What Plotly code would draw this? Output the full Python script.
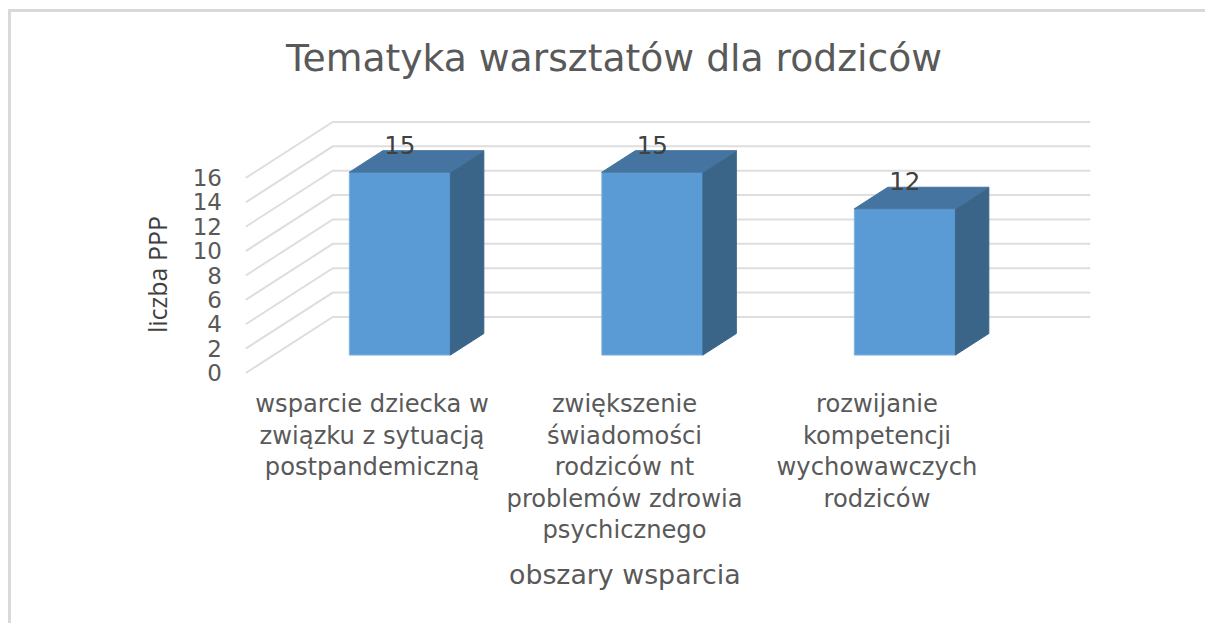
import plotly.graph_objects as go

W, H = 1205, 623

# Data
categories = ["wsparcie dziecka w<br>związku z sytuacją<br>postpandemiczną",
              "zwiększenie<br>świadomości<br>rodziców nt<br>problemów zdrowia<br>psychicznego",
              "rozwijanie<br>kompetencji<br>wychowawczych<br>rodziców"]
values = [15, 15, 12]
y_ticks = [0, 2, 4, 6, 8, 10, 12, 14, 16]
positions = [0, 1, 2]

# Scale of the pseudo-3D view (axis units)
PX_PER_CAT = 252.5
PX_PER_VAL = 12.19
X0_PX, Y0_PX = 372, 373
WALL_DX, WALL_DY = 87 / PX_PER_CAT, 56 / PX_PER_VAL
FRONT, BACK = 0.32, 0.705
BAR_W = 101 / PX_PER_CAT

GREY = "#595959"
FONT = "DejaVu Sans"

fig = go.Figure()

# front faces
fig.add_trace(go.Bar(
    x=[p + FRONT * WALL_DX for p in positions], y=values,
    base=FRONT * WALL_DY, width=BAR_W,
    marker=dict(color="#5B9BD5", line=dict(color="#7FB2E0", width=1)),
    showlegend=False, hoverinfo="skip"))

# side and top faces
for p, v in zip(positions, values):
    xl = p + FRONT * WALL_DX - BAR_W / 2
    xr = p + FRONT * WALL_DX + BAR_W / 2
    d = (BACK - FRONT)
    yb = FRONT * WALL_DY
    dx, dy = d * WALL_DX, d * WALL_DY
    fig.add_trace(go.Scatter(
        x=[xr, xr + dx, xr + dx, xr, xr],
        y=[yb, yb + dy, yb + v + dy, yb + v, yb],
        fill="toself", fillcolor="#3A6589", mode="lines",
        line=dict(color="#3A6589", width=1), showlegend=False, hoverinfo="skip"))
    fig.add_trace(go.Scatter(
        x=[xl, xl + dx, xr + dx, xr, xl],
        y=[yb + v, yb + v + dy, yb + v + dy, yb + v, yb + v],
        fill="toself", fillcolor="#44749F", mode="lines",
        line=dict(color="#44749F", width=1), showlegend=False, hoverinfo="skip"))

# data labels
fig.add_trace(go.Scatter(
    x=[p + FRONT * WALL_DX for p in positions],
    y=[v + 3.5 for v in values],
    text=[str(v) for v in values], mode="text",
    textposition="middle center",
    textfont=dict(family=FONT, size=24.5, color="#404040"),
    showlegend=False, hoverinfo="skip"))

# gridlines on side wall and back wall, under the bars
shapes = []
left, right = positions[0] - 0.5, positions[-1] + 0.5
for t in y_ticks:
    path = (f"M {left} {t} L {left + WALL_DX} {t + WALL_DY} "
            f"L {right + WALL_DX} {t + WALL_DY}")
    shapes.append(dict(type="path", path=path, xref="x", yref="y", layer="below",
                       line=dict(color="#DEDEDE", width=2)))
# chart frame
shapes.append(dict(type="line", xref="paper", yref="paper", x0=9.5 / W, x1=9.5 / W,
                   y0=0, y1=1 - 9 / H, line=dict(color="#D9D9D9", width=3)))
shapes.append(dict(type="line", xref="paper", yref="paper", x0=8 / W, x1=1,
                   y0=1 - 10.5 / H, y1=1 - 10.5 / H, line=dict(color="#D9D9D9", width=3)))

fig.update_layout(
    width=W, height=H, margin=dict(l=0, r=0, t=0, b=0),
    paper_bgcolor="white", plot_bgcolor="rgba(0,0,0,0)",
    showlegend=False, shapes=shapes,
    font=dict(family=FONT, color=GREY),
    title=dict(text="Tematyka warsztatów dla rodziców", xref="paper", yref="paper",
               x=614 / W, xanchor="center", y=1 - 58 / H, yanchor="middle",
               font=dict(family=FONT, size=37.7, color=GREY)),
    xaxis=dict(range=[(0 - X0_PX) / PX_PER_CAT, (W - X0_PX) / PX_PER_CAT],
               tickmode="array", tickvals=positions, ticktext=categories,
               tickangle=0, tickfont=dict(family=FONT, size=24.2, color=GREY),
               showgrid=False, zeroline=False, showline=False, ticks="",
               anchor="free", position=1 - 387 / H),
    yaxis=dict(range=[(Y0_PX - H) / PX_PER_VAL, Y0_PX / PX_PER_VAL],
               tickmode="array", tickvals=y_ticks, ticktext=[str(t) for t in y_ticks],
               tickfont=dict(family=FONT, size=23, color=GREY),
               showgrid=False, zeroline=False, showline=False, ticks="",
               anchor="free", position=222 / W),
    annotations=[
        dict(text="liczba PPP", xref="paper", yref="paper", x=157 / W, y=1 - 275 / H,
             xanchor="center", yanchor="middle", textangle=-90, showarrow=False,
             font=dict(family="Open Sans", size=25, color="#404040")),
        dict(text="obszary wsparcia", xref="paper", yref="paper", x=625 / W, y=1 - 574 / H,
             xanchor="center", yanchor="middle", showarrow=False,
             font=dict(family=FONT, size=26.8, color=GREY)),
    ],
)

fig.write_html("out.html", config={"displayModeBar": False},
               post_script="document.body.style.margin='0';document.documentElement.style.overflow='hidden';")
